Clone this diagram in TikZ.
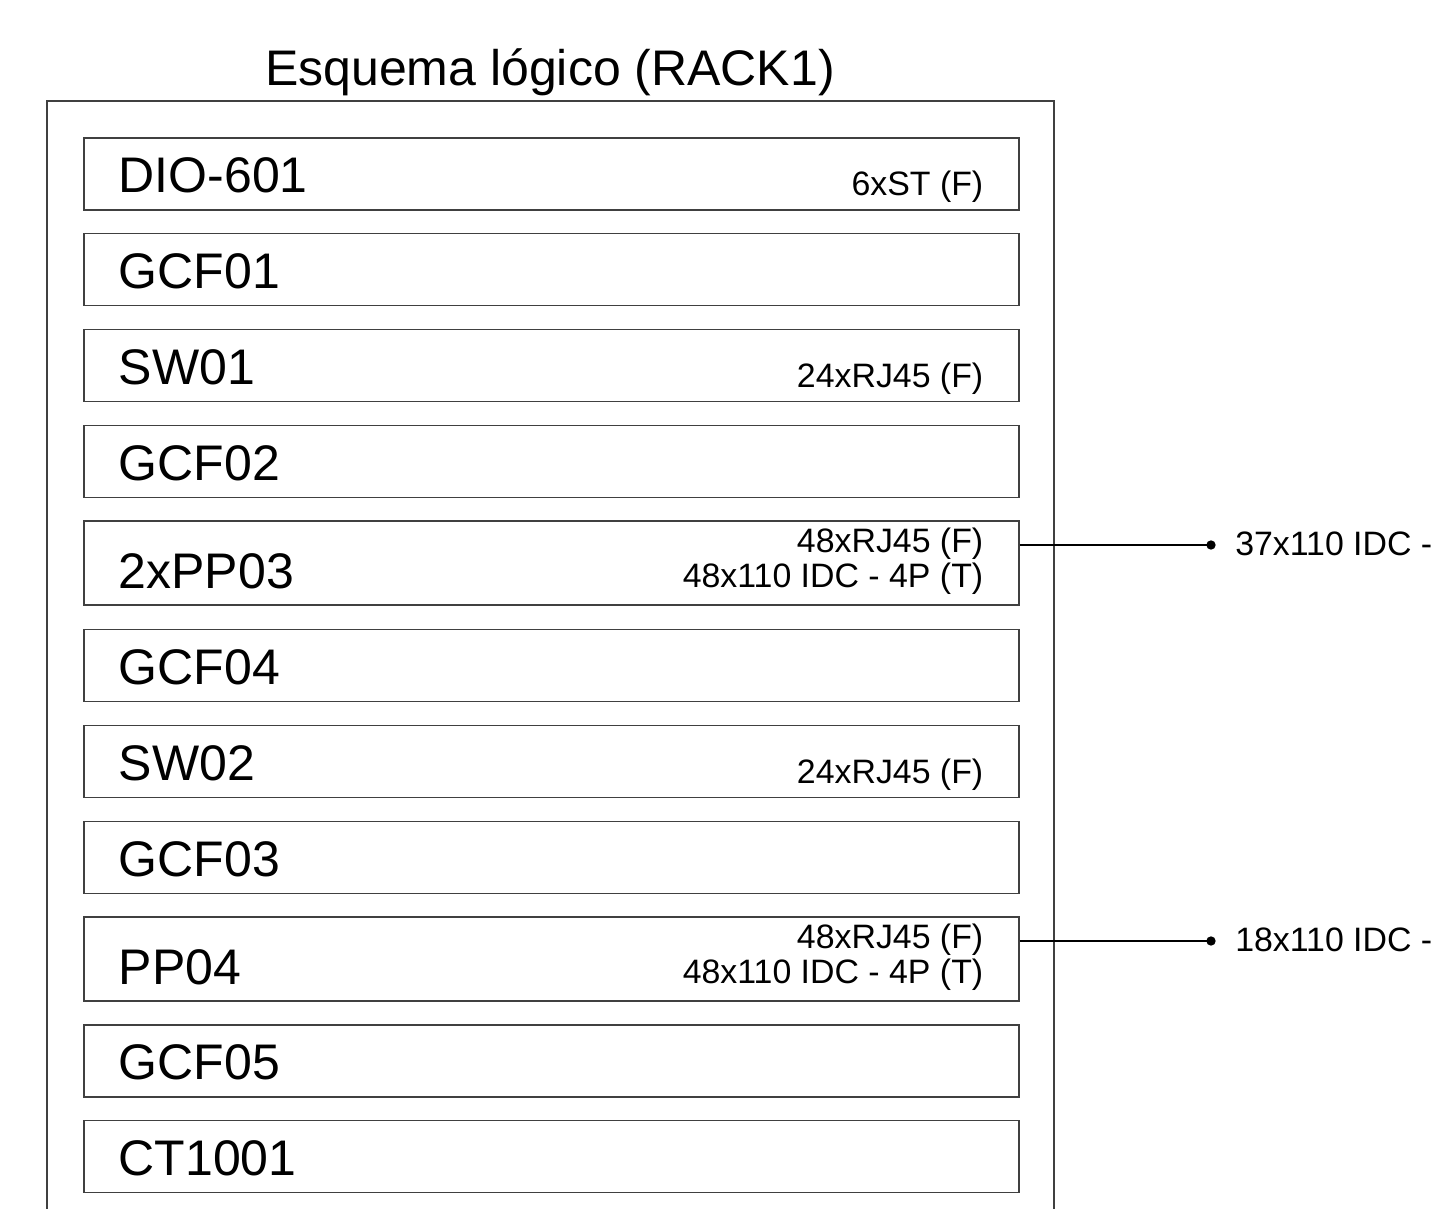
\documentclass[tikz,border=0pt]{standalone}
\usepackage{fontspec}
\setmainfont{Liberation Sans}
\begin{document}
\begin{tikzpicture}[x=0.75pt,y=-0.75pt,
  frame/.style={draw=black!75, line width=0.8pt},
  rackbox/.style={draw=black!75, line width=0.8pt, rectangle, minimum width=701.25pt, minimum height=54pt, inner sep=0pt},
  tallbox/.style={rackbox, minimum height=63pt},
  biglbl/.style={inner sep=0pt, font=\fontsize{37.5}{45}\selectfont},
  smalllbl/.style={inner sep=0pt, font=\fontsize{25.4}{30}\selectfont},
  dotnode/.style={circle, fill=black, inner sep=0pt, minimum size=7pt},
  conn/.style={draw=black, line width=0.8pt}]
\useasboundingbox (0,0) rectangle (1439,1209);
\fill[white] (0,0) rectangle (1439,1209);
% title
\node[biglbl, anchor=base] (title) at (550,86) {Esquema lógico (RACK1)};
% outer frame (open at bottom)
\coordinate (fbl) at (47,1209);
\coordinate (ftl) at (47,101);
\coordinate (ftr) at (1054,101);
\coordinate (fbr) at (1054,1209);
\draw[frame] (fbl) -- (ftl) -- (ftr) -- (fbr);
% boxes
\node[rackbox] (dio) at (551.5,174) {};
\node[rackbox] (gcf01) at (551.5,269.5) {};
\node[rackbox] (sw01) at (551.5,365.5) {};
\node[rackbox] (gcf02) at (551.5,461.5) {};
\node[tallbox] (pp03) at (551.5,563) {};
\node[rackbox] (gcf04) at (551.5,665.5) {};
\node[rackbox] (sw02) at (551.5,761.5) {};
\node[rackbox] (gcf03) at (551.5,857.5) {};
\node[tallbox] (pp04) at (551.5,959) {};
\node[rackbox] (gcf05) at (551.5,1061) {};
\node[rackbox] (ct) at (551.5,1156.5) {};
% big labels
\foreach \n/\t in {dio/DIO-601, gcf01/GCF01, sw01/SW01, gcf02/GCF02, gcf04/GCF04, sw02/SW02, gcf03/GCF03, gcf05/GCF05, ct/CT1001}
  \node[biglbl, anchor=base west] (\n-l) at ([xshift=26.25pt, yshift=-13.9pt]\n.west) {\t};
\node[biglbl, anchor=base west] (pp03-l) at ([xshift=26.25pt, yshift=-18.75pt]pp03.west) {2xPP03};
\node[biglbl, anchor=base west] (pp04-l) at ([xshift=26.25pt, yshift=-18.75pt]pp04.west) {PP04};
% small labels
\node[smalllbl, anchor=base east] (dio-s) at ([xshift=-27pt, yshift=11.25pt]dio.south east) {6xST (F)};
\node[smalllbl, anchor=base east] (sw01-s) at ([xshift=-27pt, yshift=11.25pt]sw01.south east) {24xRJ45 (F)};
\node[smalllbl, anchor=base east] (sw02-s) at ([xshift=-27pt, yshift=11.25pt]sw02.south east) {24xRJ45 (F)};
\node[smalllbl, anchor=base east] (pp03-s1) at ([xshift=-27pt, yshift=-24pt]pp03.north east) {48xRJ45 (F)};
\node[smalllbl, anchor=base east] (pp03-s2) at ([xshift=-27pt, yshift=-50.25pt]pp03.north east) {48x110 IDC - 4P (T)};
\node[smalllbl, anchor=base east] (pp04-s1) at ([xshift=-27pt, yshift=-24pt]pp04.north east) {48xRJ45 (F)};
\node[smalllbl, anchor=base east] (pp04-s2) at ([xshift=-27pt, yshift=-50.25pt]pp04.north east) {48x110 IDC - 4P (T)};
% connectors
\node[dotnode] (d1) at (1211,545) {};
\node[dotnode] (d2) at (1211,941) {};
\draw[conn] (d1 -| pp03.east) -- (d1.center);
\draw[conn] (d2 -| pp04.east) -- (d2.center);
\node[smalllbl, anchor=base west] (d1-l) at ([xshift=18pt, yshift=-7.5pt]d1.center) {37x110 IDC -};
\node[smalllbl, anchor=base west] (d2-l) at ([xshift=18pt, yshift=-7.5pt]d2.center) {18x110 IDC -};
\end{tikzpicture}
\end{document}
